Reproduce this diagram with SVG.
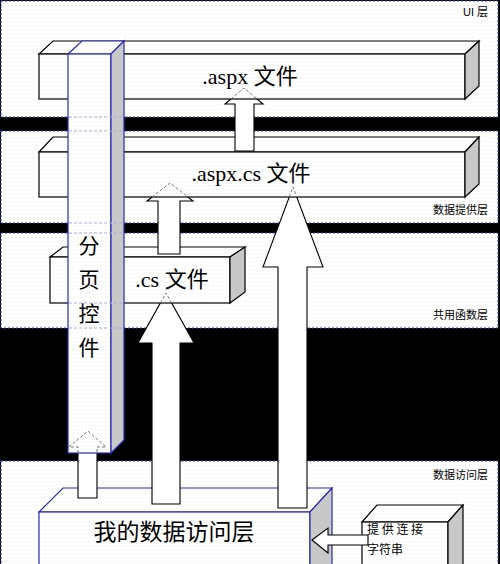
<svg xmlns="http://www.w3.org/2000/svg" width="500" height="564" viewBox="0 0 500 564">
<style>
.layer{fill:url(#dots);stroke:#3344bb;stroke-width:1;stroke-dasharray:2 2}
.face{fill:url(#dots);stroke:#000;stroke-width:1.2}
.side{fill:#c8c8c8;stroke:#000;stroke-width:1.2}
.bface{fill:url(#dots);stroke:#2a2ab0;stroke-width:1.2}
.bside{fill:#c8c8c8;stroke:#2a2ab0;stroke-width:1.2}
.arrow{fill:#fff;stroke:#000;stroke-width:1.1}
.hid{fill:none;stroke:#777;stroke-width:1;stroke-dasharray:3 2}
.hidb{fill:none;stroke:#a8acdc;stroke-width:1;stroke-dasharray:3 2}
.t{font-family:"Liberation Serif","Noto Sans CJK SC",serif;font-size:22px;fill:#000;text-anchor:middle}
.cj{font-family:"Noto Sans CJK SC",sans-serif;fill:#000}
.lbl{font-family:"Liberation Sans","Noto Sans CJK SC",sans-serif;font-size:11px;fill:#000;text-anchor:end}
</style>
<defs>
<pattern id="dots" width="4" height="4" patternUnits="userSpaceOnUse">
<rect width="4" height="4" fill="#fff"/>
<rect x="1" y="1" width="1" height="1" fill="#ececec"/>
</pattern>
</defs>

<g id="layers">
<rect x="0" y="0" width="500" height="564" fill="#000"/>
<rect class="layer" x="1" y="1" width="497" height="116"/>
<rect class="layer" x="1" y="131" width="497" height="92"/>
<rect class="layer" x="1" y="233" width="497" height="95"/>
<rect class="layer" x="1" y="461" width="497" height="106"/>
<text class="lbl" x="488" y="16">UI 层</text>
<text class="lbl" x="488" y="214">数据提供层</text>
<text class="lbl" x="488" y="319">共用函数层</text>
<text class="lbl" x="488" y="479">数据访问层</text>
</g>

<g id="dal">
<polygon class="bface" points="39,512 63,488 332,488 310,512"/>
<rect class="bface" x="39" y="512" width="271" height="56"/>
<polygon class="bside" points="310,512 332,488 332,568 310,568"/>
<text class="cj" x="174" y="540" font-size="23" text-anchor="middle">我的数据访问层</text>
</g>

<g id="connstr">
<polygon class="face" points="362,522 377,505 463,505 448,522"/>
<rect class="face" x="362" y="522" width="86" height="46"/>
<polygon class="side" points="448,522 463,505 463,568 448,568"/>
</g>

<g id="connectors-behind">
<polygon class="arrow" points="152,504 152,343 138,343 166,293 194,343 180,343 180,504"/>
<polygon class="arrow" points="278,508 278,267 263,267 293,187 323,267 307,267 307,508"/>
<polygon class="arrow" points="78,498 78,447 69,447 88,431 106,447 97,447 97,498"/>
</g>

<g id="cs">
<polygon class="face" points="50,257 63,247 245,247 230,257"/>
<rect class="face" x="50" y="257" width="180" height="46"/>
<polygon class="side" points="230,257 245,247 245,292 230,303"/>
<text class="t" x="172" y="287">.cs 文件</text>
</g>

<g id="arrowB">
<polygon class="arrow" points="158,254 158,201 147,201 170,183 193,201 180,201 180,254"/>
</g>

<g id="aspxcs">
<polygon class="face" points="39,152 53,137 479,137 465,152"/>
<rect class="face" x="39" y="152" width="426" height="45"/>
<polygon class="side" points="465,152 479,137 479,184 465,197"/>
<text class="t" x="251" y="181">.aspx.cs 文件</text>
</g>

<g id="arrowA">
<polygon class="arrow" points="235,151 235,104 225,104 244,88 263,104 254,104 254,151"/>
</g>

<g id="aspx">
<polygon class="face" points="39,54 53,41 479,41 465,54"/>
<rect class="face" x="39" y="54" width="426" height="45"/>
<polygon class="side" points="465,54 479,41 479,86 465,99"/>
<text class="t" x="250" y="84">.aspx 文件</text>
</g>

<g id="pager">
<polygon class="bface" points="68,54 82,41 124,41 111,54"/>
<rect class="bface" x="68" y="54" width="43" height="399"/>
<polygon class="bside" points="111,54 124,41 124,440 111,453"/>
<g class="hidb">
<line x1="69" y1="117" x2="124" y2="117"/>
<line x1="69" y1="131" x2="124" y2="131"/>
<line x1="69" y1="223" x2="124" y2="223"/>
<line x1="69" y1="233" x2="124" y2="233"/>
<line x1="69" y1="303" x2="124" y2="303"/>
<line x1="69" y1="328" x2="124" y2="328"/>
</g>
<g class="cj" font-size="21" text-anchor="middle">
<text x="89" y="253">分</text>
<text x="89" y="287">页</text>
<text x="89" y="321">控</text>
<text x="89" y="355">件</text>
</g>
</g>

<g id="connectors">
<polyline class="hid" points="230.9,99 244,88 257.1,99"/>
<polyline class="hid" points="152.1,197 170,183 187.9,197"/>
<polyline class="hid" points="289.3,197 293,187 296.7,197"/>
<polyline class="hid" points="160.4,303 166,293 171.6,303"/>
<polyline class="hid" points="78,453 78,447 69,447 88,431 106,447 97,447 97,453"/>
<polygon class="arrow" points="312,540 328,528 328,535 368,535 368,545 328,545 328,553"/>
</g>

<g id="connstr-text" class="cj" font-size="12">
<text x="367" y="534">提 供 连 接</text>
<text x="367" y="554">字符串</text>
</g>
</svg>
